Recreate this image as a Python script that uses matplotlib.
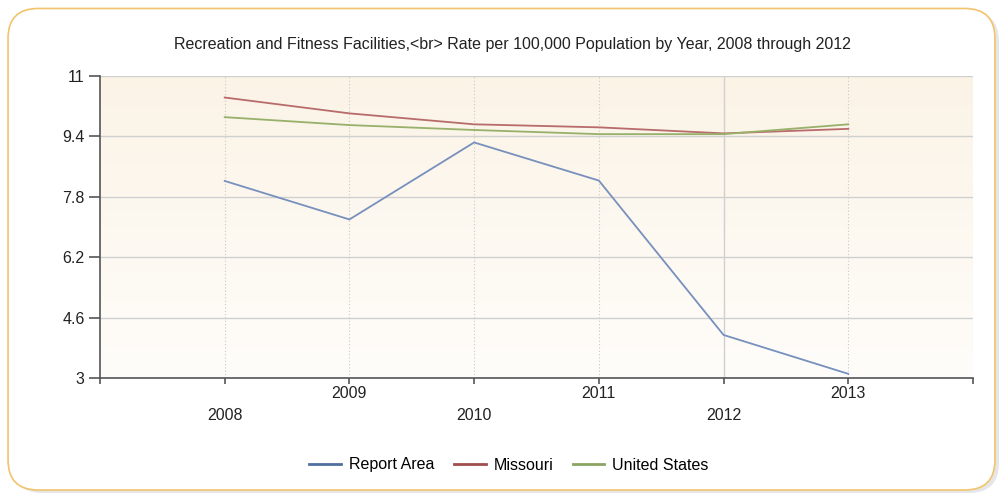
import numpy as np
import matplotlib
matplotlib.use("Agg")
import matplotlib.pyplot as plt
from matplotlib.patches import FancyBboxPatch
from matplotlib.lines import Line2D
import matplotlib.transforms as mtransforms

plt.rcParams['font.family'] = ['Liberation Sans', 'DejaVu Sans']

years = [2008, 2009, 2010, 2011, 2012, 2013]
report_area = [8.22, 7.20, 9.24, 8.23, 4.14, 3.11]
missouri = [10.43, 10.01, 9.72, 9.64, 9.48, 9.60]
united_states = [9.91, 9.70, 9.57, 9.46, 9.46, 9.72]
y_ticks = [3, 4.6, 6.2, 7.8, 9.4, 11]
y_tick_labels = ["3", "4.6", "6.2", "7.8", "9.4", "11"]
series_names = ["Report Area", "Missouri", "United States"]
series_colors = ["#7790bd", "#b86b6b", "#97b06a"]
legend_colors = ["#4f6f9f", "#a04d4d", "#8aa560"]

fig = plt.figure(figsize=(10.05, 4.99), dpi=100)
fig.patch.set_facecolor("white")

# rounded outer frame with faint shadow
shadow = FancyBboxPatch((0.012, 0.012), 0.982, 0.965, boxstyle="round,pad=0,rounding_size=0.03",
                        transform=fig.transFigure, facecolor="#e6e6e6", edgecolor="none",
                        mutation_aspect=2.0, zorder=0)
frame = FancyBboxPatch((0.008, 0.018), 0.982, 0.965, boxstyle="round,pad=0,rounding_size=0.03",
                       transform=fig.transFigure, facecolor="white", edgecolor="#f2c46d",
                       linewidth=1.2, mutation_aspect=2.0, zorder=1)
fig.patches.extend([shadow, frame])

ax = fig.add_axes([100 / 1005, 1 - 378 / 499, 873 / 1005, 302 / 499])
ax.set_zorder(2)
ax.patch.set_alpha(0)

# vertical gradient background (cream to near white)
grad = np.linspace(0, 1, 256).reshape(-1, 1)
top = np.array([251, 243, 230]) / 255
bot = np.array([255, 253, 250]) / 255
img = top * (1 - grad[..., None]) + bot * grad[..., None]
img = img.reshape(256, 1, 3)
ax.imshow(img, extent=[2007, 2014, 3, 11], aspect="auto", origin="upper", zorder=0)

ax.set_xlim(2007, 2014)
ax.set_ylim(3, 11)

for yv in y_ticks:
    ax.axhline(yv, color="#d0d0d0", linewidth=1.0, zorder=1)
for xv in range(2008, 2015):
    if xv == 2012:
        ax.axvline(xv, color="#d0d0d0", linewidth=1.0, zorder=1)
    else:
        ax.axvline(xv, color="#c8c8c8", linewidth=0.8, linestyle=(0, (1, 2)), zorder=1)

for vals, col in zip([report_area, missouri, united_states], series_colors):
    ax.plot(years, vals, color=col, linewidth=1.3, zorder=3)

for side in ["top", "right"]:
    ax.spines[side].set_visible(False)
for side in ["left", "bottom"]:
    ax.spines[side].set_color("#555555")
    ax.spines[side].set_linewidth(1.2)

ax.set_yticks(y_ticks)
ax.set_yticklabels(y_tick_labels, fontsize=11.5, color="#222222")
ax.tick_params(axis="y", length=8, width=1.2, color="#555555", pad=3)

ax.set_xticks(list(range(2007, 2015)))
ax.set_xticklabels([])
ax.tick_params(axis="x", length=4, width=1.2, color="#555555")

trans = mtransforms.blended_transform_factory(ax.transData, ax.transAxes)
for i, yr in enumerate(years):
    yoff = -0.098 if i % 2 == 0 else -0.025
    ax.text(yr, yoff, str(yr), transform=trans, ha="center", va="top",
            fontsize=11.5, color="#222222")

fig.text(512 / 1005, 1 - 45 / 499,
         "Recreation and Fitness Facilities,<br> Rate per 100,000 Population by Year, 2008 through 2012",
         ha="center", va="center", fontsize=11.5, color="#222222")

handles = [Line2D([0], [0], color=c, linewidth=2) for c in legend_colors]
fig.legend(handles, series_names, loc="center", bbox_to_anchor=(509 / 1005, 1 - 465 / 499),
           ncol=3, frameon=False, fontsize=11.5, handlelength=2.0, handletextpad=0.5,
           columnspacing=1.2)

fig.savefig("out.png", dpi=100)
